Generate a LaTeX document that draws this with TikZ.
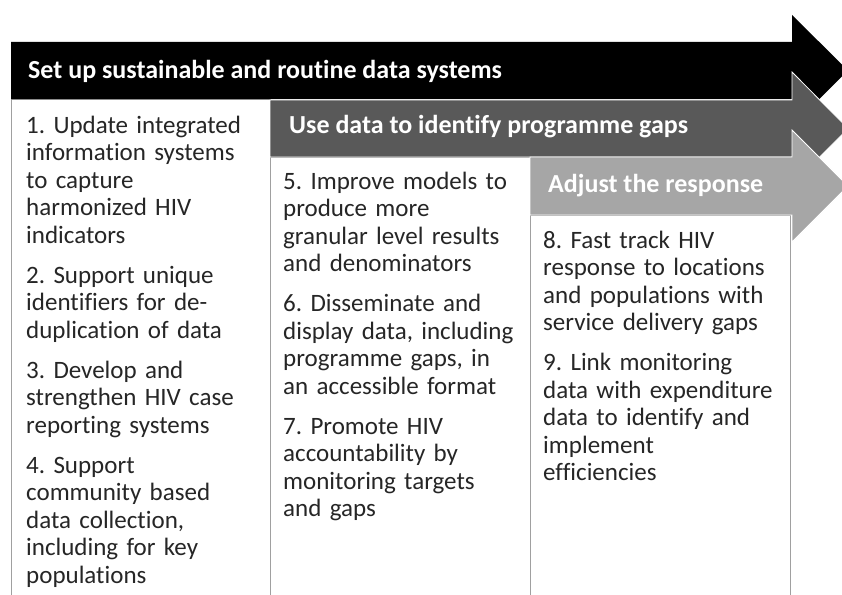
\documentclass[tikz,border=0pt]{standalone}
\usepackage{fontspec}
\setmainfont{Carlito}[Ligatures={NoCommon}]
\frenchspacing
\definecolor{darkg}{HTML}{595959}
\definecolor{lightg}{HTML}{A6A6A6}
\definecolor{rulec}{HTML}{A0A0A0}
\begin{document}
\frenchspacing
\begin{tikzpicture}[x=1pt,y=-1pt,
  titletext/.style={font=\fontsize{26}{28}\selectfont\bfseries\frenchspacing, text=white, anchor=base west, inner sep=0pt},
  bodytext/.style={font=\fontsize{25}{27.5}\selectfont\frenchspacing, text=black!85, anchor=base west, inner sep=0pt, text width=255pt, align=left},
  colbox/.style={draw=rulec, line width=0.8pt, fill=white},
  arrowshape/.style={draw=white, line width=0.8pt}]
\clip (0,0) rectangle (842,594);
\fill[white] (0,0) rectangle (842,594);
% columns
\draw[colbox] (11,99) rectangle (270,610);
\draw[colbox] (270,157) rectangle (530,610);
\draw[colbox] (530,215) rectangle (790,610);
% arrows
\fill[black] (11,42) -- (792,42) -- (792,15) -- (848,70.5) -- (792,126) -- (792,99) -- (11,99) -- cycle;
\filldraw[arrowshape, fill=darkg] (270,100) -- (792,100) -- (792,72) -- (848,128.5) -- (792,185) -- (792,157) -- (270,157) -- cycle;
\filldraw[arrowshape, fill=lightg] (530,157) -- (792,157) -- (792,130) -- (848,186) -- (792,242) -- (792,215) -- (530,215) -- cycle;
% titles
\node[titletext] (t1) at (28,78) {Set up sustainable and routine data systems};
\node[titletext] (t2) at (289,133) {Use data to identify programme gaps};
\node[titletext] (t3) at (548,192) {Adjust the response};
% body texts
\node[bodytext] (c1) at (26,133) {1. Update integrated\\information systems\\to capture\\harmonized HIV\\indicators\\[12.5pt]2. Support unique\\identifiers for de-\\duplication of data\\[12.5pt]3. Develop and\\strengthen HIV case\\reporting systems\\[12.5pt]4. Support\\community based\\data collection,\\including for key\\populations};
\node[bodytext] (c2) at (283,189) {5. Improve models to\\produce more\\granular level results\\and denominators\\[12.5pt]6. Disseminate and\\display data, including\\programme gaps, in\\an accessible format\\[12.5pt]7. Promote HIV\\accountability by\\monitoring targets\\and gaps};
\node[bodytext] (c3) at (543,248) {8. Fast track HIV\\response to locations\\and populations with\\service delivery gaps\\[12.5pt]9. Link monitoring\\data with expenditure\\data to identify and\\implement\\efficiencies};
\end{tikzpicture}
\end{document}
